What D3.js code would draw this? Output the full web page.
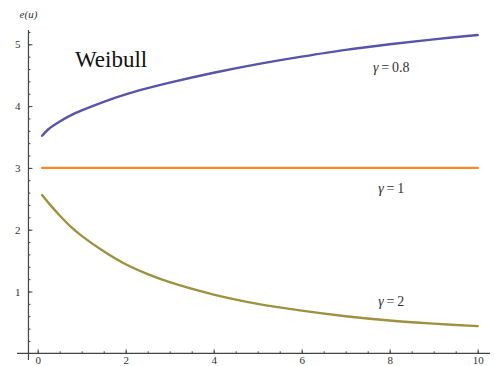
<!DOCTYPE html>
<html>
<head>
<meta charset="utf-8">
<script src="https://cdn.jsdelivr.net/npm/d3@7"></script>
<style>
  body { margin: 0; background: #fff; }
  svg { display: block; }
</style>
</head>
<body>
<div id="chart"></div>
<script>
// Data
var uVals   = [0.1, 0.25, 0.5, 0.75, 1, 1.5, 2, 2.5, 3, 4, 5, 6, 7, 8, 9, 10];
var eGamma08 = [3.52, 3.63, 3.75, 3.85, 3.93, 4.07, 4.19, 4.29, 4.38, 4.54, 4.68, 4.80, 4.91, 5.00, 5.08, 5.15];
var eGamma1  = [3, 3, 3, 3, 3, 3, 3, 3, 3, 3, 3, 3, 3, 3, 3, 3];
var eGamma2  = [2.56, 2.43, 2.23, 2.05, 1.90, 1.65, 1.44, 1.28, 1.15, 0.95, 0.80, 0.69, 0.60, 0.53, 0.48, 0.44];

var seriesSymbol = ["γ", "γ", "γ"];
var seriesValue  = ["0.8", "1", "2"];
var seriesColors = ["#5755a8", "#f98b26", "#9e9240"];
var labelAt      = [[7.62, 4.55], [7.74, 2.59], [7.74, 0.77]];   // label anchor, data units

var xTicks = [0, 2, 4, 6, 8, 10];
var yTicks = [1, 2, 3, 4, 5];

var width = 495, height = 366;

var svg = d3.select("#chart")
            .append("svg")
            .attr("width", width)
            .attr("height", height);

// Scales
var x = d3.scaleLinear().domain([0, 10]).range([37.7, 477.7]);
var y = d3.scaleLinear().domain([0, 5]).range([353.3, 44.3]);

var serif = "'Liberation Serif', 'DejaVu Serif', serif";

// Axis lines (Mathematica style: they run a bit past each other)
var axisX0 = x(-0.21);
var axisY0 = y(0);

svg.append("line")
   .attr("x1", x(-0.47)).attr("x2", x(10.28))
   .attr("y1", axisY0).attr("y2", axisY0)
   .attr("stroke", "#444").attr("stroke-width", 1.2);

svg.append("line")
   .attr("x1", axisX0).attr("x2", axisX0)
   .attr("y1", y(5.23)).attr("y2", y(-0.11))
   .attr("stroke", "#444").attr("stroke-width", 1.2);

// x ticks
var xAxisMinor = d3.axisBottom(x).tickValues(d3.range(0, 10.01, 0.5)).tickSize(-2).tickFormat("");
var xAxisMajor = d3.axisBottom(x).tickValues(xTicks).tickSize(-4).tickPadding(0).tickFormat(d3.format("d"));

var gxMinor = svg.append("g").attr("transform", "translate(0," + axisY0 + ")").call(xAxisMinor);
var gxMajor = svg.append("g").attr("transform", "translate(0," + axisY0 + ")").call(xAxisMajor);

// y ticks
var yAxisMinor = d3.axisLeft(y).tickValues(d3.range(0.2, 5.21, 0.2)).tickSize(-2).tickFormat("");
var yAxisMajor = d3.axisLeft(y).tickValues(yTicks).tickSize(-4).tickPadding(8).tickFormat(d3.format("d"));

var gyMinor = svg.append("g").attr("transform", "translate(" + axisX0 + ",0)").call(yAxisMinor);
var gyMajor = svg.append("g").attr("transform", "translate(" + axisX0 + ",0)").call(yAxisMajor);

[gxMinor, gxMajor, gyMinor, gyMajor].forEach(function(g) {
    g.select(".domain").remove();
    g.selectAll(".tick line").attr("stroke", "#444").attr("stroke-width", 1);
    g.selectAll(".tick text")
     .attr("font-family", serif)
     .attr("font-size", 11)
     .attr("fill", "#333");
});
// x labels sit low, right at the bottom edge as in the original
gxMajor.selectAll(".tick text").attr("y", 3).attr("dy", "0.71em");

// axis label
svg.append("text")
   .attr("x", axisX0)
   .attr("y", 18)
   .attr("text-anchor", "middle")
   .attr("font-family", serif)
   .attr("font-style", "italic")
   .attr("font-size", 11)
   .attr("fill", "#333")
   .text("e(u)");

// Curves
var line = d3.line()
             .x(function(d) { return x(d[0]); })
             .y(function(d) { return y(d[1]); })
             .curve(d3.curveCatmullRom.alpha(0.5));

var allSeries = [eGamma08, eGamma1, eGamma2];

svg.append("g")
   .attr("fill", "none")
   .selectAll("path")
   .data(allSeries)
   .enter().append("path")
   .attr("d", function(s) { return line(uVals.map(function(u, i) { return [u, s[i]]; })); })
   .attr("stroke", function(d, i) { return seriesColors[i]; })
   .attr("stroke-width", 2.4)
   .attr("stroke-linecap", "round");

// Series labels
var labels = svg.append("g")
                .selectAll("text")
                .data(seriesValue)
                .enter().append("text")
                .attr("x", function(d, i) { return x(labelAt[i][0]); })
                .attr("y", function(d, i) { return y(labelAt[i][1]); })
                .attr("font-family", serif)
                .attr("font-size", 14)
                .attr("fill", "#333");

labels.each(function(d, i) {
    var t = d3.select(this);
    t.append("tspan").attr("font-style", "italic").text(seriesSymbol[i]);
    t.append("tspan").text("\u2009=\u2009" + d);
});

// Title inside plot
svg.append("text")
   .attr("x", 75)
   .attr("y", 67)
   .attr("font-family", serif)
   .attr("font-size", 23)
   .attr("fill", "#111")
   .text("Weibull");
</script>
</body>
</html>
